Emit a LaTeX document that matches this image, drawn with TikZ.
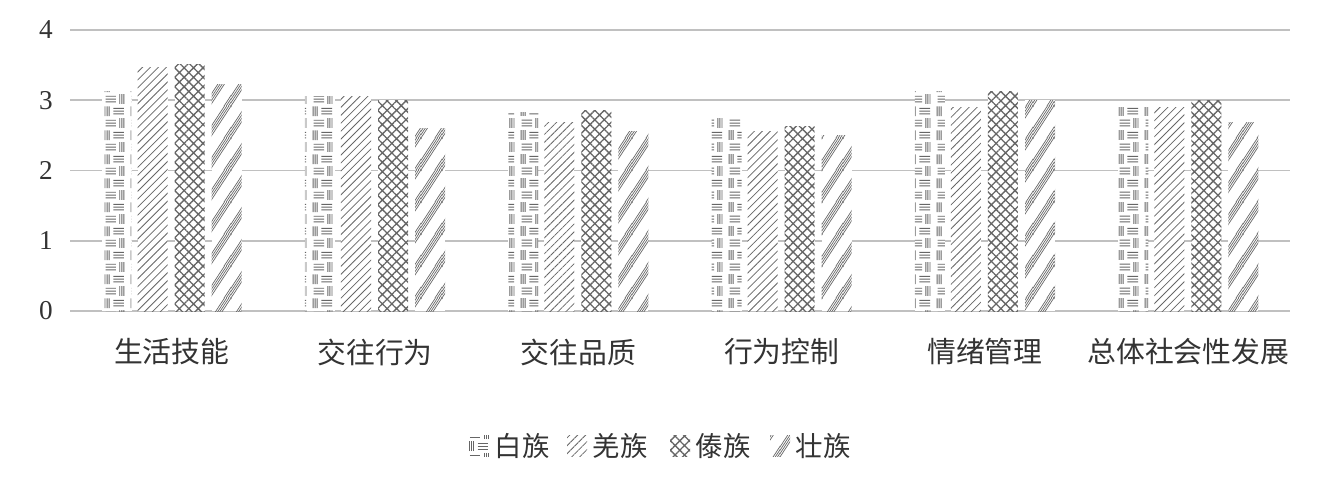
\documentclass[tikz,border=0pt]{standalone}
\usepackage{fontspec}
\setmainfont{Liberation Serif}
\newfontfamily\cjk{Noto Sans CJK SC}
\usepackage{tikz}
\usetikzlibrary{patterns, patterns.meta, positioning}

\definecolor{gridgray}{HTML}{C0C0C0}
\definecolor{barline}{HTML}{666666}
\definecolor{textgray}{HTML}{333333}

% short vertical and horizontal strokes
\pgfdeclarepatternformonly{baistroke}{\pgfpointorigin}{\pgfpoint{14.8pt}{13.6pt}}{\pgfpoint{14.8pt}{13.6pt}}{
  \pgfsetlinewidth{0.55pt}
  \foreach \x in {0.6,1.8,3.0}{
    \pgfpathmoveto{\pgfpoint{\x pt}{7.4pt}}\pgfpathlineto{\pgfpoint{\x pt}{13.0pt}}}
  \foreach \y in {8.6,10.2,11.8}{
    \pgfpathmoveto{\pgfpoint{5.4pt}{\y pt}}\pgfpathlineto{\pgfpoint{11.6pt}{\y pt}}}
  \foreach \y in {1.8,3.4,5.0}{
    \pgfpathmoveto{\pgfpoint{1.0pt}{\y pt}}\pgfpathlineto{\pgfpoint{7.0pt}{\y pt}}}
  \foreach \x in {9.2,10.4,11.6}{
    \pgfpathmoveto{\pgfpoint{\x pt}{0.6pt}}\pgfpathlineto{\pgfpoint{\x pt}{6.2pt}}}
  \pgfusepath{stroke}
}
% bundles of steep thin lines
\pgfdeclarepatternformonly{zhuangbundle}{\pgfpointorigin}{\pgfpoint{12pt}{18pt}}{\pgfpoint{12pt}{18pt}}{
  \pgfsetlinewidth{0.4pt}
  \foreach \c in {0,1.9,3.8,5.7}{
    \foreach \k in {-18,0,18}{
      \pgfpathmoveto{\pgfpoint{-12pt}{\c pt+\k pt-18pt}}
      \pgfpathlineto{\pgfpoint{24pt}{\c pt+\k pt+36pt}}}}
  \pgfusepath{stroke}
}

\tikzset{
  baibar/.style={fill=white, postaction={pattern=baistroke, pattern color=barline}},
  qiangbar/.style={fill=white, postaction={pattern={Lines[angle=45,distance=3.2pt,line width=0.45pt]}, pattern color=barline}},
  daibar/.style={fill=white, postaction={pattern={Hatch[angle=45,distance=3.8pt,line width=0.75pt]}, pattern color=barline}},
  zhuangbar/.style={fill=white, postaction={pattern=zhuangbundle, pattern color=barline}},
}

\begin{document}
\begin{tikzpicture}[x=0.02cm,y=0.02cm,
  grid/.style={draw=gridgray,line width=1.1pt},
  ticklabel/.style={anchor=east,inner sep=0pt,text=textgray,font=\fontsize{15.5pt}{17pt}\selectfont},
  catlabel/.style={inner sep=0pt,text=textgray,font=\cjk\fontsize{16.4pt}{19pt}\selectfont},
  legpatch/.style={minimum width=0.4cm,minimum height=0.42cm,inner sep=0pt},
  legtext/.style={inner sep=0pt,text=textgray,font=\cjk\fontsize{15.6pt}{18pt}\selectfont},
  node distance=0.1cm]
\useasboundingbox (0,0) rectangle (1328,488);
% gridlines
\foreach \v in {0,...,4}{
  \draw[grid] (70,177+70.25*\v) -- (1290,177+70.25*\v);
  \node[ticklabel] (y\v) at (53,177+70.25*\v) {\v};
}
% bars
\foreach \lab/\a/\b/\c/\d [count=\i from 0] in
  {生活技能/3.12/3.46/3.51/3.22, 交往行为/3.06/3.05/3.00/2.60,
   交往品质/2.82/2.68/2.86/2.55, 行为控制/2.76/2.55/2.62/2.50,
   情绪管理/3.12/2.89/3.13/3.00, 总体社会性发展/2.90/2.90/2.99/2.68}{
  \pgfmathsetmacro\cx{70+203.33*(\i+0.5)}
  \fill[baibar] (\cx-70,177) rectangle ++(30,70.25*\a);
  \fill[qiangbar] (\cx-34,177) rectangle ++(30,70.25*\b);
  \fill[daibar] (\cx+3,177) rectangle ++(30,70.25*\c);
  \fill[zhuangbar] (\cx+40,177) rectangle ++(30,70.25*\d);
  \node[catlabel] (cat\i) at (\cx,136) {\lab};
}
% legend
\node[legpatch,baibar] (kbai) at (479,42) {};
\node[legtext,right=of kbai] (tbai) {白族};
\node[legpatch,qiangbar] (kqiang) at (577,42) {};
\node[legtext,right=of kqiang] (tqiang) {羌族};
\node[legpatch,daibar] (kdai) at (680,42) {};
\node[legtext,right=of kdai] (tdai) {傣族};
\node[legpatch,zhuangbar] (kzhuang) at (780,42) {};
\node[legtext,right=of kzhuang] (tzhuang) {壮族};
\end{tikzpicture}
\end{document}
